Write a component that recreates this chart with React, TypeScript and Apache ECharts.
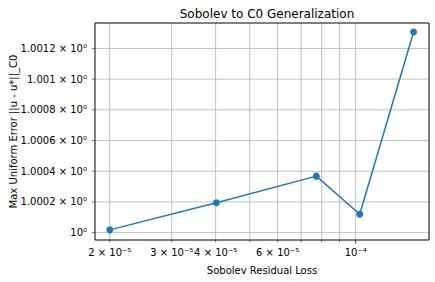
import React, { useEffect, useRef } from "react";
import * as echarts from "echarts";

const lossValues = [2.0e-5, 4.02e-5, 7.73e-5, 1.027e-4, 1.461e-4];
const errorValues = [1.000018, 1.000194, 1.000368, 1.00012, 1.001307];

const xTickValues = [2e-5, 3e-5, 4e-5, 5e-5, 6e-5, 7e-5, 8e-5, 9e-5, 1e-4];
const xTickLabels = ["2 × 10⁻⁵", "3 × 10⁻⁵", "4 × 10⁻⁵", "", "6 × 10⁻⁵", "", "", "", "10⁻⁴"];

const yTickValues = [1.0, 1.0002, 1.0004, 1.0006, 1.0008, 1.001, 1.0012];
const yTickLabels = ["10⁰", "1.0002 × 10⁰", "1.0004 × 10⁰", "1.0006 × 10⁰", "1.0008 × 10⁰", "1.001 × 10⁰", "1.0012 × 10⁰"];

const X_MIN = 1.816e-5;
const X_MAX = 1.616e-4;
const Y_MIN = 0.999952;
const Y_MAX = 1.001366;

const FONT = "DejaVu Sans";
const GRID = { left: 94, top: 23, width: 335, height: 217 };

export default function App() {
  const ref = useRef<HTMLDivElement>(null);
  useEffect(() => {
    document.body.style.margin = "0";
    const chart = echarts.init(ref.current!, null, { renderer: "svg" });
    const points = lossValues.map((x, i) => [x, errorValues[i]]);
    chart.setOption({
      animation: false,
      backgroundColor: "#ffffff",
      textStyle: { fontFamily: FONT },
      title: {
        text: "Sobolev to C0 Generalization",
        left: 262,
        top: 3,
        textAlign: "center",
        textStyle: { fontFamily: FONT, fontSize: 12, fontWeight: "normal", color: "#000" },
      },
      grid: {
        ...GRID,
        show: true,
        borderColor: "#000",
        borderWidth: 1,
        backgroundColor: "transparent",
        z: 4,
      },
      xAxis: {
        type: "log",
        logBase: 10,
        min: X_MIN,
        max: X_MAX,
        name: "Sobolev Residual Loss",
        nameLocation: "middle",
        nameGap: 25,
        nameTextStyle: { fontFamily: FONT, fontSize: 10, color: "#000" },
        axisLine: { show: false },
        axisTick: { show: false },
        axisLabel: { show: false },
        splitLine: { show: false },
      },
      yAxis: {
        type: "log",
        logBase: 10,
        min: Y_MIN,
        max: Y_MAX,
        name: "Max Uniform Error ||u - u*||_C0",
        nameLocation: "middle",
        nameGap: 77,
        nameTextStyle: { fontFamily: FONT, fontSize: 10, color: "#000" },
        axisLine: { show: false },
        axisTick: { show: false },
        axisLabel: { show: false },
        splitLine: { show: false },
      },
      series: [
        {
          type: "line",
          data: points,
          z: 3,
          color: "#1f77b4",
          lineStyle: { color: "#1f77b4", width: 1.5 },
          symbol: "circle",
          symbolSize: 7,
          itemStyle: { color: "#1f77b4" },
        },
      ],
    });

    const top = GRID.top;
    const bottom = GRID.top + GRID.height;
    const left = GRID.left;
    const right = GRID.left + GRID.width;
    const gridColor = "#b0b0b0";
    const elements: any[] = [];
    xTickValues.forEach((v, i) => {
      const px = chart.convertToPixel({ xAxisIndex: 0 }, v) as number;
      elements.push({
        type: "line",
        z: 1,
        silent: true,
        shape: { x1: px, y1: top, x2: px, y2: bottom },
        style: { stroke: gridColor, lineWidth: 0.8 },
      });
      const major = v === 1e-4;
      elements.push({
        type: "line",
        z: 1,
        silent: true,
        shape: { x1: px, y1: bottom, x2: px, y2: bottom + (major ? 3.5 : 2) },
        style: { stroke: "#000", lineWidth: major ? 0.8 : 0.6 },
      });
      if (xTickLabels[i]) {
        elements.push({
          type: "text",
          z: 5,
          silent: true,
          x: px,
          y: bottom + 7,
          style: {
            text: xTickLabels[i],
            fontFamily: FONT,
            fontSize: 10,
            fill: "#000",
            align: "center",
            verticalAlign: "top",
          },
        });
      }
    });
    yTickValues.forEach((v, i) => {
      const py = chart.convertToPixel({ yAxisIndex: 0 }, v) as number;
      elements.push({
        type: "line",
        z: 1,
        silent: true,
        shape: { x1: left, y1: py, x2: right, y2: py },
        style: { stroke: gridColor, lineWidth: 0.8 },
      });
      elements.push({
        type: "line",
        z: 1,
        silent: true,
        shape: { x1: left - 2, y1: py, x2: left, y2: py },
        style: { stroke: "#000", lineWidth: 0.6 },
      });
      elements.push({
        type: "text",
        z: 5,
        silent: true,
        x: left - 7,
        y: py,
        style: {
          text: yTickLabels[i],
          fontFamily: FONT,
          fontSize: 10,
          fill: "#000",
          align: "right",
          verticalAlign: "middle",
        },
      });
    });
    chart.setOption({ graphic: { elements } });
    return () => chart.dispose();
  }, []);
  return <div ref={ref} style={{ position: "fixed", left: 0, top: 0, width: 435, height: 282 }} />;
}
